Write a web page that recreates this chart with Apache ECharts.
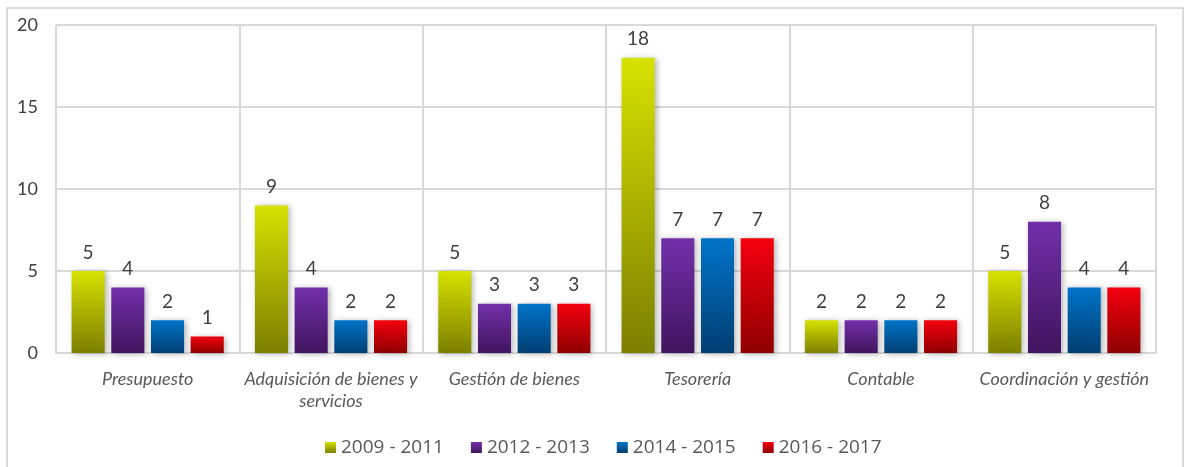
<!DOCTYPE html>
<html>
<head>
<meta charset="utf-8">
<script src="https://cdn.jsdelivr.net/npm/echarts@6/dist/echarts.min.js"></script>
<style>
  html, body { margin: 0; padding: 0; background: #fff; }
  #chart { width: 1185px; height: 467px; }
</style>
</head>
<body>
<div id="chart"></div>
<script>
// áreas evaluadas
var categories = ['Presupuesto', 'Adquisición de bienes y\nservicios', 'Gestión de bienes', 'Tesorería', 'Contable', 'Coordinación y gestión'];
var periods = ['2009 - 2011', '2012 - 2013', '2014 - 2015', '2016 - 2017'];
var s2009 = [5, 9, 5, 18, 2, 5];
var s2012 = [4, 4, 3, 7, 2, 8];
var s2014 = [2, 2, 3, 7, 2, 4];
var s2016 = [1, 2, 3, 7, 2, 4];
var yTicks = [0, 5, 10, 15, 20];

var shadeColors = [
  ['#d6e200', '#7c7f00'],
  ['#7230aa', '#40145e'],
  ['#0074c8', '#003e72'],
  ['#f4000e', '#8e0000'],
];

var seriesValues = [s2009, s2012, s2014, s2016];
var font = 'Lato, "Open Sans", sans-serif';

var myChart = echarts.init(document.getElementById('chart'));

var series = [];
for (var i = 0; i < periods.length; i++) {
  series.push({
    name: periods[i],
    type: 'bar',
    barGap: '20%',
    barCategoryGap: '17%',
    data: seriesValues[i],
    itemStyle: {
      color: {
        type: 'linear', x: 0, y: 0, x2: 0, y2: 1,
        colorStops: [
          { offset: 0, color: shadeColors[i][0] },
          { offset: 1, color: shadeColors[i][1] },
        ],
      },
      shadowBlur: 6,
      shadowColor: 'rgba(0,0,0,0.3)',
      shadowOffsetX: 2,
      shadowOffsetY: 1,
    },
    label: {
      show: true,
      position: 'top',
      distance: 9,
      color: '#404040',
      fontSize: 19,
      fontFamily: font,
    },
  });
}

var option = {
  animation: false,
  graphic: [{
    type: 'rect',
    shape: { x: 7, y: 8, width: 1176, height: 480 },
    style: { fill: 'none', stroke: '#d9d9d9', lineWidth: 2 },
    silent: true,
    z: -1,
  }],
  grid: { left: 56, right: 29, top: 25, bottom: 114 },
  legend: {
    data: periods,
    top: 438,
    left: 325,
    padding: 0,
    itemWidth: 11,
    itemHeight: 11,
    itemGap: 27,
    icon: 'rect',
    textStyle: { color: '#595959', fontSize: 19, fontFamily: '"Open Sans", sans-serif', padding: [0, 0, 0, 0] },
  },
  xAxis: {
    type: 'category',
    data: categories,
    axisLine: { lineStyle: { color: '#d9d9d9', width: 2 } },
    axisTick: { show: false },
    splitLine: { show: true, lineStyle: { color: '#d9d9d9', width: 2 } },
    axisLabel: {
      color: '#595959',
      fontSize: 18,
      fontStyle: 'italic',
      fontFamily: font,
      margin: 15,
      lineHeight: 22,
      interval: 0,
    },
  },
  yAxis: {
    type: 'value',
    min: yTicks[0],
    max: yTicks[yTicks.length - 1],
    interval: yTicks[1] - yTicks[0],
    axisLine: { show: false },
    axisTick: { show: false },
    splitLine: { lineStyle: { color: '#d9d9d9', width: 2 } },
    axisLabel: { color: '#404040', fontSize: 18, fontFamily: font, margin: 18 },
  },
  series: series,
};

myChart.setOption(option);
</script>
</body>
</html>
